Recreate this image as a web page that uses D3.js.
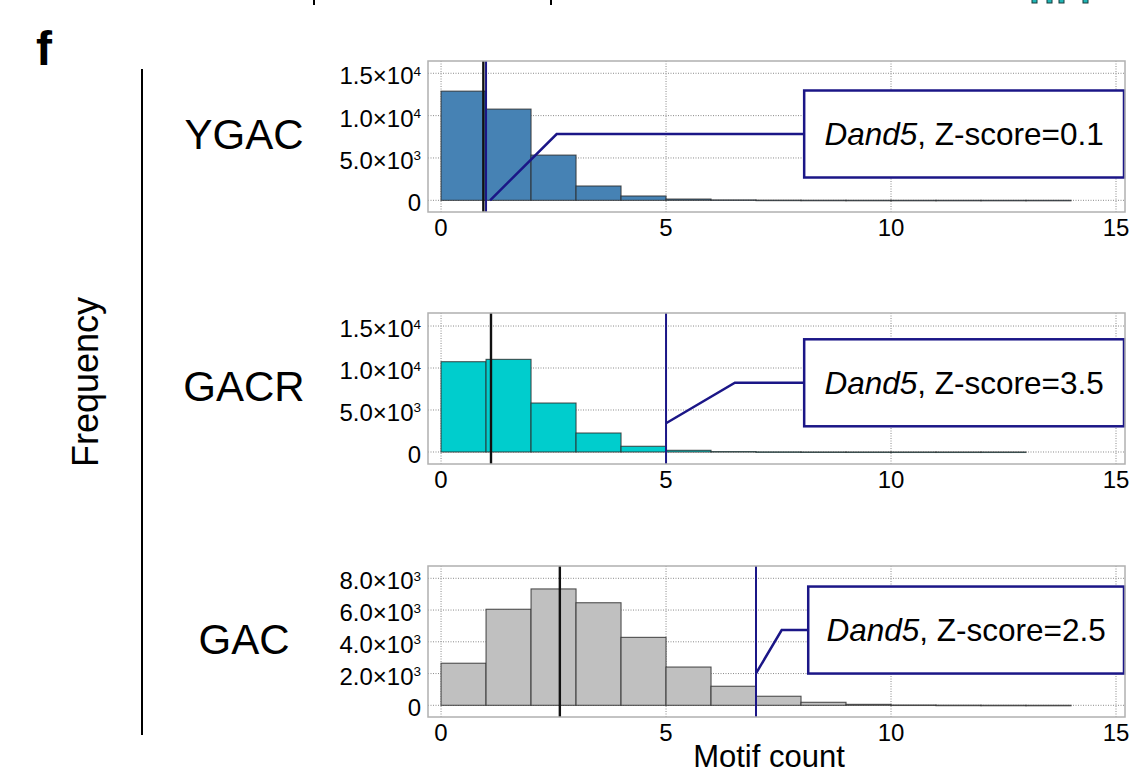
<!DOCTYPE html>
<html>
<head>
<meta charset="utf-8">
<script src="https://cdn.jsdelivr.net/npm/d3@7"></script>
<style>
  body { margin: 0; background: #fff; }
  svg { display: block; font-family: "Liberation Sans", Arial, Helvetica, sans-serif; }
</style>
</head>
<body>
<div id="chart"></div>
<script>
const width = 1136, height = 773;

// histogram counts per motif-count bin (bin i = [i, i+1))
const motifs = ['YGAC', 'GACR', 'GAC'];
const ygacCounts = [12890, 10770, 5340, 1690, 510, 150, 50, 20, 10, 5, 3, 2, 1, 1];
const gacrCounts = [10750, 11030, 5830, 2260, 680, 200, 50, 15, 5, 3, 2, 1, 1];
const gacCounts = [2650, 6050, 7330, 6460, 4280, 2410, 1200, 570, 190, 60, 20, 8, 3, 1];
const meanCount = [0.94, 1.11, 2.64];   // black line
const dand5Count = [1.0, 5.0, 7.0];     // blue line
const dand5Z = ['0.1', '3.5', '2.5'];
const xTicks = [0, 5, 10, 15];
const yTicksLarge = [0, 5000, 10000, 15000];
const yTicksSmall = [0, 2000, 4000, 6000, 8000];

const allCounts = [ygacCounts, gacrCounts, gacCounts];
const allYTicks = [yTicksLarge, yTicksLarge, yTicksSmall];
const fills = ['#4682b4', '#00cdcd', '#c0c0c0'];
const navy = '#1b1687';

// panel frames and annotation placement (layout only)
const panels = [
  { top: 61, bottom: 212, yDom: [-1380, 16450], tip: [1.09, 0], elbow: [2.57, 7830], boxX: 8.07 },
  { top: 313, bottom: 464, yDom: [-1430, 16550], tip: [5.0, 3420], elbow: [6.53, 8240], boxX: 8.07 },
  { top: 566, bottom: 717, yDom: [-737, 8775], tip: [7.0, 2015], elbow: [7.57, 4740], boxX: 8.16 },
];

const svg = d3.select('#chart').append('svg')
  .attr('width', width)
  .attr('height', height)
  .attr('viewBox', [0, 0, width, height]);

const x = d3.scaleLinear().domain([-0.29, 15.2]).range([428, 1125]);

function sciLabel(sel, v) {
  if (v === 0) { sel.text('0'); return; }
  const e = Math.floor(Math.log10(v));
  const m = (v / Math.pow(10, e)).toFixed(1);
  sel.append('tspan').text(m + '\u00d710');
  sel.append('tspan').attr('font-size', 13.5).attr('dy', -8.5).text(e);
}

panels.forEach((p, i) => {
  const y = d3.scaleLinear().domain(p.yDom).range([p.bottom, p.top]);
  const g = svg.append('g');
  const counts = allCounts[i];

  // grid
  g.selectAll('.gx').data(xTicks).join('line')
    .attr('x1', d => x(d)).attr('x2', d => x(d))
    .attr('y1', p.top).attr('y2', p.bottom)
    .attr('stroke', '#8a8a8a').attr('stroke-width', 1).attr('stroke-dasharray', '1,1.5');
  g.selectAll('.gy').data(allYTicks[i]).join('line')
    .attr('x1', x.range()[0]).attr('x2', x.range()[1])
    .attr('y1', d => y(d)).attr('y2', d => y(d))
    .attr('stroke', '#8a8a8a').attr('stroke-width', 1).attr('stroke-dasharray', '1,1.5');

  // bars
  g.selectAll('rect.bar').data(counts).join('rect')
    .attr('class', 'bar')
    .attr('x', (d, k) => x(k))
    .attr('width', (d, k) => x(k + 1) - x(k))
    .attr('y', d => y(d))
    .attr('height', d => Math.max(0.5, y(0) - y(d)))
    .attr('fill', fills[i])
    .attr('stroke', '#2a2a2a').attr('stroke-opacity', 0.8).attr('stroke-width', 1.1);

  // mean and Dand5 lines
  g.append('line')
    .attr('x1', x(meanCount[i])).attr('x2', x(meanCount[i]))
    .attr('y1', p.top).attr('y2', p.bottom)
    .attr('stroke', '#111').attr('stroke-width', 2.4);
  g.append('line')
    .attr('x1', x(dand5Count[i])).attr('x2', x(dand5Count[i]))
    .attr('y1', p.top).attr('y2', p.bottom)
    .attr('stroke', navy).attr('stroke-width', 2);

  // annotation
  const bx0 = x(p.boxX), bx1 = 1124, ey = y(p.elbow[1]);
  g.append('polyline')
    .attr('points', [[x(p.tip[0]), y(p.tip[1])], [x(p.elbow[0]), ey], [bx0, ey]].map(d => d.join(',')).join(' '))
    .attr('fill', 'none').attr('stroke', navy).attr('stroke-width', 2.5);
  g.append('rect')
    .attr('x', bx0).attr('y', ey - 43.5)
    .attr('width', bx1 - bx0).attr('height', 87)
    .attr('fill', '#fff').attr('stroke', navy).attr('stroke-width', 2.5);
  const t = g.append('text')
    .attr('x', (bx0 + bx1) / 2).attr('y', ey + 11)
    .attr('text-anchor', 'middle').attr('font-size', 31.5).attr('fill', '#000');
  t.append('tspan').attr('font-style', 'italic').text('Dand5');
  t.append('tspan').text(', Z-score=' + dand5Z[i]);

  // frame
  g.append('rect')
    .attr('x', x.range()[0]).attr('y', p.top)
    .attr('width', x.range()[1] - x.range()[0]).attr('height', p.bottom - p.top)
    .attr('fill', 'none').attr('stroke', '#b0b0b0').attr('stroke-width', 1.5);

  // tick labels
  g.selectAll('text.xt').data(xTicks).join('text')
    .attr('class', 'xt')
    .attr('x', d => x(d)).attr('y', p.bottom + 23.5)
    .attr('text-anchor', 'middle').attr('font-size', 24)
    .text(d => d);
  g.selectAll('text.yt').data(allYTicks[i]).join('text')
    .attr('class', 'yt')
    .attr('x', 421).attr('y', d => y(d) + 11)
    .attr('text-anchor', 'end').attr('font-size', 24)
    .each(function (d) { sciLabel(d3.select(this), d); });

  // motif label
  svg.append('text')
    .attr('x', 244).attr('y', (p.top + p.bottom) / 2 + 12.5)
    .attr('text-anchor', 'middle').attr('font-size', 42)
    .text(motifs[i]);
});

// axis titles and panel letter
svg.append('text')
  .attr('transform', 'translate(98,382) rotate(-90)')
  .attr('text-anchor', 'middle').attr('font-size', 36)
  .text('Frequency');
svg.append('line')
  .attr('x1', 142).attr('x2', 142).attr('y1', 69).attr('y2', 735)
  .attr('stroke', '#000').attr('stroke-width', 2);
svg.append('text')
  .attr('x', 769).attr('y', 767)
  .attr('text-anchor', 'middle').attr('font-size', 31)
  .text('Motif count');
svg.append('text')
  .attr('x', 36).attr('y', 65)
  .attr('font-size', 48).attr('font-weight', 'bold')
  .text('f');

// cropped remnants of the figure above
svg.selectAll('rect.crumb').data([313, 550]).join('rect')
  .attr('x', d => d).attr('y', 0).attr('width', 2).attr('height', 5).attr('fill', '#000');
svg.selectAll('rect.teal').data([1032, 1047, 1059, 1083]).join('rect')
  .attr('x', d => d).attr('y', -1).attr('width', 5).attr('height', 4)
  .attr('fill', '#1fb5b5').attr('stroke', '#1a3a3a').attr('stroke-width', 1);
</script>
</body>
</html>
